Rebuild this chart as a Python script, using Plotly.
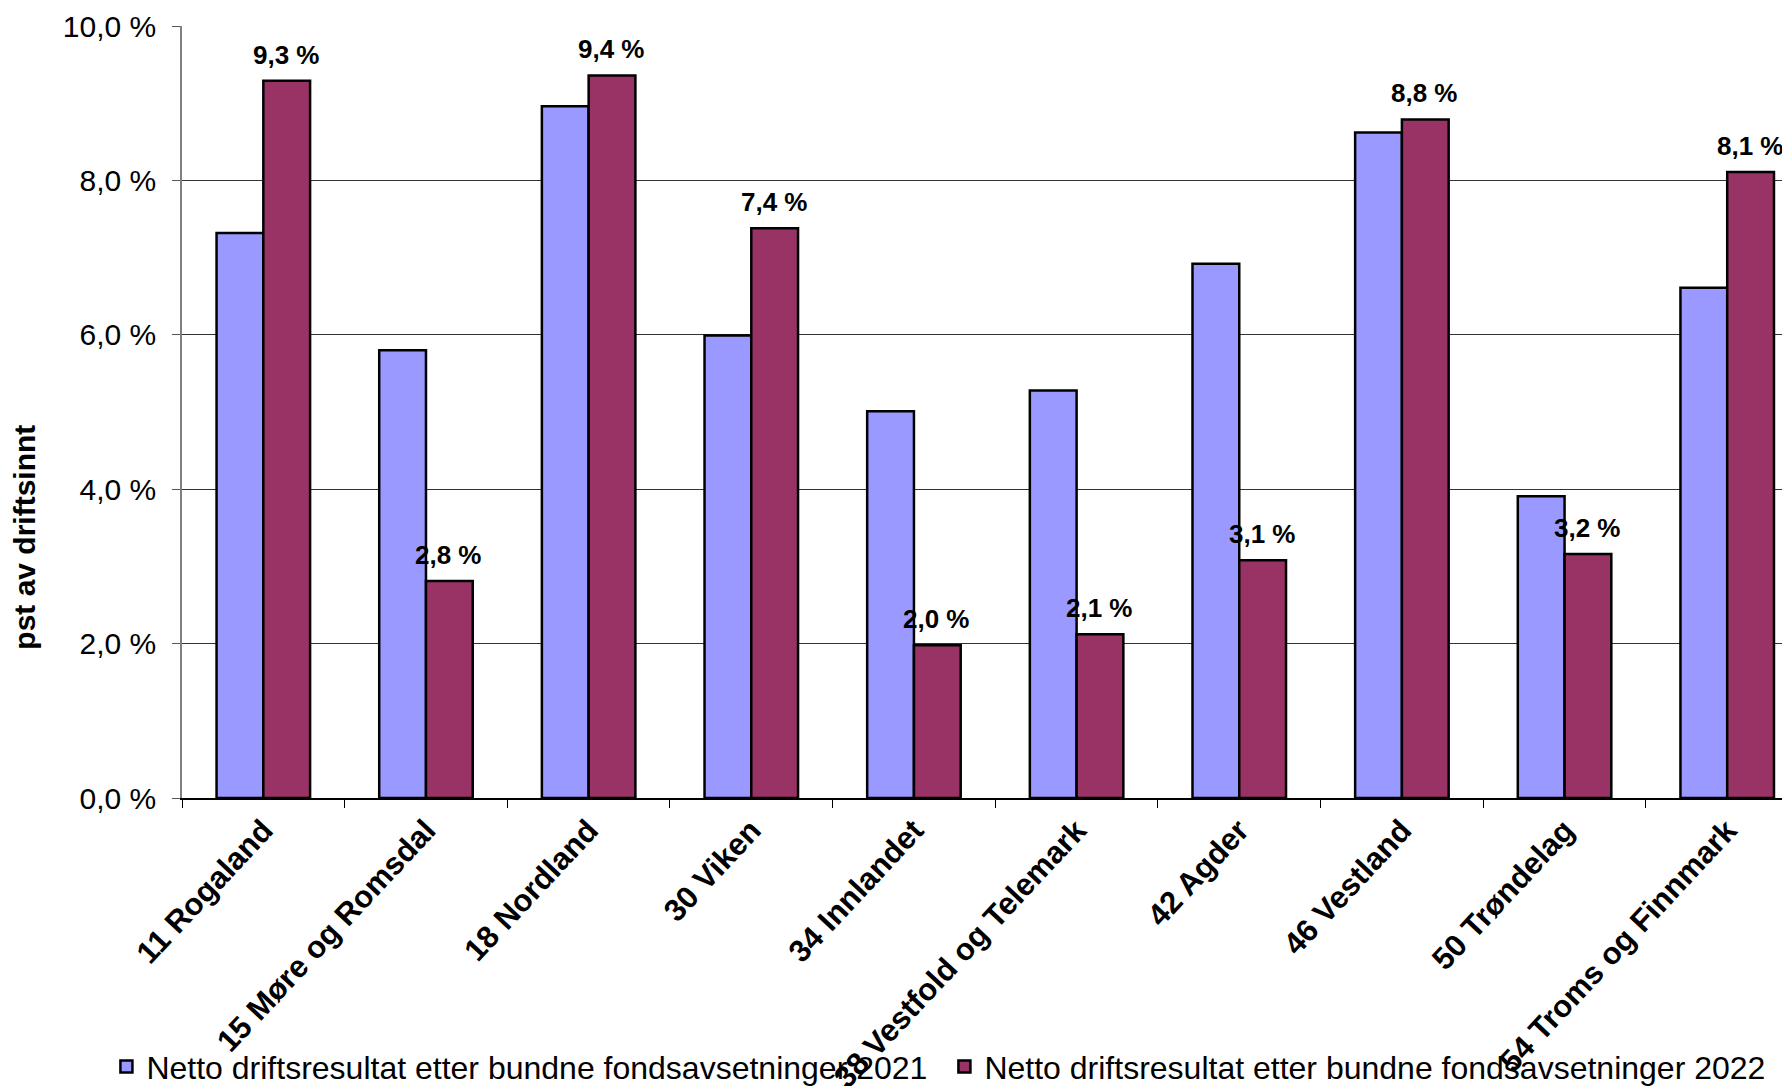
import plotly.graph_objects as go

categories = [
    "11 Rogaland", "15 Møre og Romsdal", "18 Nordland", "30 Viken", "34 Innlandet",
    "38 Vestfold og Telemark", "42 Agder", "46 Vestland", "50 Trøndelag", "54 Troms og Finnmark",
]
values_2021 = [7.32, 5.80, 8.96, 5.99, 5.01, 5.28, 6.92, 8.62, 3.91, 6.61]
values_2022 = [9.29, 2.81, 9.36, 7.38, 1.98, 2.12, 3.08, 8.79, 3.16, 8.11]
y_ticks = [0, 2, 4, 6, 8, 10]
y_tick_labels = ["0,0 %", "2,0 %", "4,0 %", "6,0 %", "8,0 %", "10,0 %"]

name_2021 = "Netto driftsresultat etter bundne fondsavsetninger 2021"
name_2022 = "Netto driftsresultat etter bundne fondsavsetninger 2022"

FONT = "Liberation Sans, Arial, sans-serif"

fig = go.Figure()
fig.add_trace(go.Bar(
    x=categories, y=values_2021, name=name_2021,
    marker=dict(color="#9999FF", line=dict(color="#000000", width=2.5)),
))
fig.add_trace(go.Bar(
    x=categories, y=values_2022, name=name_2022,
    marker=dict(color="#993366", line=dict(color="#000000", width=2.5)),
))

# value labels above the 2022 bars
for cat, v in zip(categories, values_2022):
    fig.add_annotation(
        x=cat, y=v, text=f"<b>{v:.1f} %</b>".replace(".", ","),
        xshift=23, yshift=26, yanchor="middle", showarrow=False,
        font=dict(family=FONT, size=26, color="#000000"),
    )

fig.add_annotation(
    text="<b>pst av driftsinnt</b>", textangle=-90,
    xref="paper", yref="paper", x=-0.11, y=0.338,
    showarrow=False, font=dict(family=FONT, size=30, color="#000000"),
)

# page body has an 8px margin, so figure is sized to end at the window edge
fig.update_layout(
    width=1782, height=1078,
    plot_bgcolor="white", paper_bgcolor="white",
    margin=dict(l=173.5, r=0, t=18, b=288, autoexpand=False),
    barmode="group", bargap=0.425, bargroupgap=0,
    font=dict(family=FONT, size=30, color="#000000"),
    xaxis=dict(
        range=[-0.5, 9.386],
        tickangle=-47,
        tickfont=dict(family=FONT, size=31, weight="bold"),
        tickson="boundaries", ticks="outside", ticklen=8, tickcolor="#000000",
        showline=True, linecolor="#000000", linewidth=1.5,
        showgrid=False, automargin=False,
    ),
    yaxis=dict(
        range=[0, 10],
        tickvals=y_ticks, ticktext=y_tick_labels,
        tickfont=dict(family=FONT, size=30),
        ticks="outside", ticklen=8, tickcolor="#555555",
        ticklabelstandoff=10,
        showline=True, linecolor="#808080", linewidth=1.5,
        showgrid=True, gridcolor="#333333", gridwidth=1,
        zeroline=False, automargin=False,
    ),
    legend=dict(
        orientation="h", x=-0.047, xanchor="left", y=-0.348, yanchor="middle",
        font=dict(family=FONT, size=32), entrywidth=793,
        itemwidth=30, bgcolor="rgba(0,0,0,0)",
    ),
)

fig.write_html("out.html")
